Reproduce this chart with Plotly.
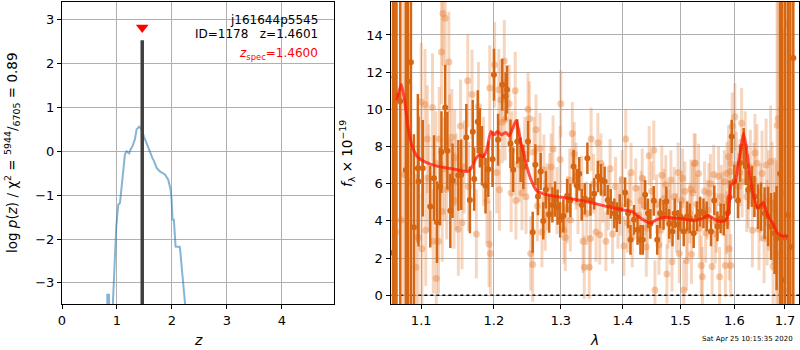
import plotly.graph_objects as go

# ---------------- redshift probability panel ----------------
z_grid = [0.800, 0.823, 0.825, 0.856, 0.858, 0.900, 0.988, 1.024, 1.055, 1.103,
          1.145, 1.176, 1.224, 1.248, 1.285, 1.327, 1.358, 1.406, 1.448, 1.490,
          1.540, 1.600, 1.650, 1.673, 1.722, 1.780, 1.873, 1.933, 1.976, 1.994,
          2.012, 2.036, 2.067, 2.145, 2.240, 2.300]
log_pz = [-5.0, -5.0, -3.27, -3.27, -5.0, -4.2, -1.71, -1.22, -1.18, -0.49,
          -0.07, 0.00, -0.05, 0.04, 0.12, 0.27, 0.50, 0.56, 0.50, 0.34,
          0.18, -0.04, -0.17, -0.22, -0.38, -0.46, -0.53, -0.65, -0.87, -1.10,
          -1.56, -1.56, -2.17, -2.18, -3.48, -4.30]
z_best = 1.4601
z_spec = 1.4600
peak_height = 2.53
marker_height = 2.82

# ---------------- spectrum panel ----------------
# binned spectrum: wavelength (micron), flux, uncertainty
lam_bin = [1.0636, 1.0653, 1.0679, 1.0727, 1.0800, 1.0826, 1.0865, 1.0904, 1.0956, 1.0965,
           1.102, 1.112, 1.117, 1.121, 1.125, 1.127, 1.132, 1.135, 1.139, 1.142,
           1.150, 1.154, 1.161, 1.166, 1.170, 1.172, 1.177, 1.180, 1.183, 1.188,
           1.192, 1.198, 1.200, 1.206, 1.212, 1.217, 1.219, 1.224, 1.228, 1.234,
           1.239, 1.243, 1.250, 1.257, 1.261, 1.265, 1.269, 1.273, 1.277, 1.282,
           1.287, 1.291, 1.295, 1.299, 1.304, 1.310, 1.315, 1.320, 1.325, 1.329,
           1.333, 1.338, 1.342, 1.347, 1.353, 1.359, 1.364, 1.370, 1.375, 1.380,
           1.386, 1.390, 1.395, 1.404, 1.409, 1.413, 1.419, 1.425, 1.430, 1.434,
           1.438, 1.443, 1.447, 1.453, 1.459, 1.464, 1.470, 1.475, 1.480, 1.486,
           1.490, 1.496, 1.500, 1.506, 1.512, 1.517, 1.524, 1.530, 1.536, 1.542,
           1.548, 1.556, 1.562, 1.568, 1.574, 1.580, 1.587, 1.591, 1.595, 1.600,
           1.607, 1.611, 1.618, 1.622, 1.627, 1.634, 1.639, 1.646, 1.652, 1.659,
           1.666, 1.672, 1.679, 1.683, 1.690, 1.694, 1.700, 1.706, 1.711, 1.717]
flux_bin = [2.28, 11.74, 10.73, 10.43, 6.74, 11.50, 12.53, 3.66, 6.83, 6.12,
            6.83, 4.77, 6.30, 3.93, 5.85, 7.70, 10.10, 7.77, 4.54, 6.16,
            6.45, 6.48, 8.49, 5.13, 8.80, 6.25, 9.33, 8.47, 7.50, 5.90,
            6.78, 7.32, 11.86, 8.36, 11.32, 10.70, 11.06, 8.15, 6.75, 8.27,
            7.29, 6.90, 8.27, 3.39, 7.02, 5.31, 6.66, 4.00, 5.67, 4.36,
            4.86, 5.17, 4.74, 4.06, 4.27, 5.35, 5.10, 6.92, 5.90, 6.53,
            4.86, 5.19, 7.37, 5.13, 5.46, 6.39, 6.21, 6.12, 5.13, 4.92,
            4.41, 4.20, 4.63, 5.53, 4.41, 2.98, 4.06, 3.52, 2.98, 2.98,
            5.40, 4.41, 3.84, 5.08, 2.98, 4.41, 4.32, 5.04, 3.84, 3.43,
            4.41, 3.79, 4.24, 3.43, 4.24, 4.14, 3.34, 4.24, 4.50, 4.41,
            4.24, 3.43, 5.10, 3.70, 4.14, 4.06, 4.41, 5.27, 8.54, 6.12,
            5.10, 7.11, 8.00, 6.93, 5.67, 5.85, 5.31, 4.77, 4.77, 4.41,
            4.24, 3.70, 3.34, 3.07, 6.53, 0.82, 3.10, 4.32, 2.60, 12.76]
err_bin = [25.0, 25.0, 25.0, 25.0, 20.0, 20.0, 16.0, 5.0, 4.0, 3.5,
           2.6, 2.2, 2.3, 2.2, 2.1, 2.2, 2.3, 2.1, 2.0, 2.0,
           1.9, 1.9, 1.8, 1.8, 1.7, 1.7, 1.7, 1.6, 1.6, 1.5,
           1.5, 1.5, 1.4, 1.4, 1.4, 1.3, 1.3, 1.3, 1.2, 1.2,
           1.2, 1.2, 1.1, 1.1, 1.1, 1.0, 1.0, 1.0, 1.0, 1.0,
           0.95, 0.95, 0.95, 0.95, 0.9, 0.9, 0.9, 0.9, 0.9, 0.9,
           0.85, 0.85, 0.85, 0.85, 0.85, 0.85, 0.85, 0.8, 0.8, 0.8,
           0.8, 0.8, 0.8, 0.8, 0.8, 0.8, 0.8, 0.8, 0.8, 0.8,
           0.8, 0.8, 0.8, 0.8, 0.8, 0.8, 0.8, 0.8, 0.8, 0.8,
           0.8, 0.8, 0.8, 0.8, 0.8, 0.8, 0.8, 0.8, 0.8, 0.8,
           0.8, 0.8, 0.8, 0.8, 0.8, 0.85, 0.85, 0.9, 0.9, 0.9,
           0.95, 1.0, 1.0, 1.0, 1.05, 1.1, 1.1, 1.2, 1.3, 1.4,
           1.6, 1.8, 2.2, 2.8, 20.0, 20.0, 25.0, 25.0, 25.0, 25.0]

# individual exposures, first orient
lam_exp = [1.067, 1.074, 1.078, 1.083, 1.093, 1.096, 1.100, 1.101, 1.105, 1.106,
           1.110, 1.115, 1.116, 1.120, 1.123, 1.124, 1.127, 1.128, 1.129, 1.132,
           1.134, 1.137, 1.138, 1.141, 1.144, 1.147, 1.150, 1.153, 1.155, 1.163,
           1.164, 1.169, 1.175, 1.178, 1.190, 1.193, 1.194, 1.195, 1.201, 1.204,
           1.207, 1.208, 1.210, 1.215, 1.216, 1.222, 1.225, 1.231, 1.232, 1.237,
           1.241, 1.247, 1.250, 1.252, 1.254, 1.257, 1.259, 1.262, 1.264, 1.268,
           1.271, 1.274, 1.279, 1.283, 1.288, 1.294, 1.299, 1.300, 1.305, 1.307,
           1.314, 1.315, 1.318, 1.321, 1.327, 1.335, 1.337, 1.345, 1.347, 1.348,
           1.356, 1.359, 1.362, 1.364, 1.372, 1.376, 1.383, 1.388, 1.396, 1.402,
           1.405, 1.411, 1.416, 1.422, 1.431, 1.437, 1.440, 1.445, 1.453, 1.455,
           1.462, 1.467, 1.474, 1.476, 1.481, 1.485, 1.489, 1.496, 1.498, 1.502,
           1.506, 1.508, 1.511, 1.517, 1.520, 1.522, 1.525, 1.527, 1.533, 1.535,
           1.538, 1.540, 1.544, 1.546, 1.552, 1.558, 1.561, 1.566, 1.570, 1.572,
           1.577, 1.581, 1.583, 1.586, 1.589, 1.590, 1.592, 1.593, 1.594, 1.596,
           1.601, 1.608, 1.614, 1.615, 1.621, 1.627, 1.631, 1.635, 1.640, 1.644,
           1.648, 1.654, 1.658, 1.662, 1.667, 1.671, 1.674, 1.676, 1.683, 1.684,
           1.686, 1.693, 1.695, 1.697, 1.705]
flux_exp = [3.40, 4.05, 6.50, 6.10, 1.50, 3.10, 10.40, 2.50, 10.25, 3.50,
            6.30, 10.10, 2.90, 0.90, 2.90, 8.40, 13.08, 4.50, 15.15, 14.90,
            5.70, 12.55, 8.20, 8.50, 5.10, 6.10, 3.55, 9.10, 3.90, 11.54,
            5.85, 10.80, 3.30, 10.15, 5.10, 2.75, 11.15, 2.25, 12.40, 6.60,
            11.05, 5.67, 10.50, 12.60, 9.45, 10.30, 5.50, 11.00, 5.10, 7.00,
            5.50, 5.30, 10.00, 9.50, 2.25, 1.65, 7.70, 8.90, 4.80, 7.90,
            3.40, 6.75, 5.30, 5.85, 7.87, 5.10, 7.30, 10.30, 3.50, 3.10,
            6.20, 4.05, 8.70, 7.60, 5.00, 2.90, 1.50, 1.50, 3.05, 8.40,
            3.40, 8.20, 3.25, 7.10, 2.90, 5.10, 3.30, 5.85, 4.80, 2.65,
            8.40, 4.95, 3.10, 5.75, 5.10, 4.80, 2.60, 7.50, 7.80, 0.28,
            2.70, 6.45, 5.95, 1.15, 4.40, 1.80, 5.30, 6.60, 2.25, 5.10,
            0.28, 5.60, 1.85, 4.40, 2.20, 5.50, 7.10, 7.10, 6.55, 3.60,
            1.60, 1.00, 5.60, 3.35, 5.50, 1.55, 6.50, 3.90, 6.40, 1.00,
            4.95, 6.10, 1.60, 6.55, 7.45, 2.50, 6.65, 1.60, 7.10, 9.10,
            9.60, 5.85, 9.25, 6.10, 8.00, 5.60, 6.90, 3.50, 7.65, 7.10,
            3.55, 6.55, 3.05, 7.00, 5.10, 7.20, 4.95, 1.55, 2.25, 9.15,
            9.50, 10.00, 5.50, 0.30, 14.60]
err_exp = [14.0, 12.0, 10.0, 8.0, 5.0, 4.0, 3.2, 3.0, 3.0, 3.0,
           2.9, 2.9, 2.8, 2.8, 2.8, 2.8, 2.8, 2.7, 2.8, 2.8,
           2.7, 2.7, 2.6, 2.6, 2.6, 2.6, 2.5, 2.5, 2.5, 2.5,
           2.4, 2.4, 2.4, 2.4, 2.3, 2.3, 2.3, 2.3, 2.3, 2.2,
           2.2, 2.2, 2.2, 2.2, 2.2, 2.1, 2.1, 2.1, 2.1, 2.0,
           2.0, 2.0, 2.0, 2.0, 2.0, 2.0, 1.9, 1.9, 1.9, 1.9,
           1.9, 1.9, 1.8, 1.8, 1.8, 1.8, 1.8, 1.8, 1.8, 1.8,
           1.7, 1.7, 1.7, 1.7, 1.7, 1.7, 1.7, 1.7, 1.7, 1.7,
           1.6, 1.6, 1.6, 1.6, 1.6, 1.6, 1.6, 1.6, 1.6, 1.6,
           1.6, 1.6, 1.6, 1.6, 1.6, 1.6, 1.6, 1.6, 1.6, 1.6,
           1.6, 1.6, 1.6, 1.6, 1.6, 1.6, 1.6, 1.6, 1.6, 1.6,
           1.6, 1.6, 1.6, 1.6, 1.6, 1.6, 1.6, 1.6, 1.6, 1.6,
           1.6, 1.6, 1.6, 1.6, 1.6, 1.6, 1.6, 1.6, 1.6, 1.6,
           1.7, 1.7, 1.7, 1.7, 1.7, 1.7, 1.7, 1.7, 1.7, 1.8,
           1.8, 1.8, 1.9, 1.9, 1.9, 2.0, 2.0, 2.0, 2.1, 2.1,
           2.2, 2.3, 2.4, 2.5, 2.7, 3.0, 3.3, 3.6, 5.0, 8.0,
           12.0, 14.0, 14.0, 14.0, 14.0]

# individual exposures, second orient
lam_exp2 = [1.108, 1.119, 1.131, 1.145, 1.158, 1.185, 1.212, 1.226, 1.245, 1.276,
            1.285, 1.310, 1.324, 1.333, 1.341, 1.352, 1.367, 1.379, 1.392, 1.399,
            1.408, 1.414, 1.427, 1.433, 1.442, 1.449, 1.458, 1.465, 1.471, 1.478,
            1.483, 1.493, 1.504, 1.513, 1.519, 1.530, 1.549, 1.555, 1.564, 1.575,
            1.585, 1.604, 1.611, 1.624, 1.638, 1.651, 1.664, 1.679]
flux_exp2 = [8.40, 7.10, 6.80, 7.40, 6.90, 7.20, 9.30, 7.80, 7.60, 4.30,
             6.90, 4.60, 6.40, 5.80, 4.40, 6.00, 5.50, 6.80, 4.10, 6.20,
             3.90, 6.60, 4.30, 6.30, 3.60, 5.60, 4.90, 3.50, 5.20, 4.10,
             6.20, 3.90, 6.30, 3.50, 5.70, 4.90, 4.60, 6.00, 3.30, 5.30,
             3.90, 7.00, 6.60, 5.30, 6.20, 5.00, 3.90, 4.60]
err_exp2 = [2.9, 2.8, 2.8, 2.6, 2.5, 2.4, 2.2, 2.1, 2.0, 1.9,
            1.8, 1.8, 1.8, 1.7, 1.7, 1.6, 1.6, 1.6, 1.6, 1.6,
            1.6, 1.6, 1.6, 1.6, 1.6, 1.6, 1.6, 1.6, 1.6, 1.6,
            1.6, 1.6, 1.6, 1.6, 1.6, 1.6, 1.6, 1.6, 1.6, 1.7,
            1.7, 1.8, 1.8, 1.9, 2.0, 2.1, 2.3, 2.8]

# best-fit model
lam_model = [1.0683, 1.0740, 1.0783, 1.0826, 1.0883, 1.0948, 1.1036, 1.1220, 1.1449, 1.1633,
             1.1679, 1.1748, 1.1793, 1.1854, 1.1909, 1.1954, 1.2000, 1.2050, 1.2110, 1.2174,
             1.2223, 1.2322, 1.2347, 1.2396, 1.2445, 1.2496, 1.2545, 1.2619, 1.2742, 1.2941,
             1.3203, 1.3473, 1.3742, 1.4010, 1.4159, 1.4306, 1.4470, 1.4571, 1.4718, 1.4955,
             1.5137, 1.5259, 1.5383, 1.5507, 1.5599, 1.5722, 1.5846, 1.5907, 1.5939, 1.6013,
             1.6066, 1.6131, 1.6176, 1.6229, 1.6294, 1.6376, 1.6459, 1.6563, 1.6661, 1.6759,
             1.6851, 1.6949, 1.7060]
flux_model = [10.50, 11.33, 10.50, 9.08, 8.00, 7.46, 7.20, 6.93, 6.78, 6.66,
              6.84, 7.38, 7.54, 7.46, 8.00, 8.81, 8.63, 8.81, 8.63, 8.76,
              8.58, 9.40, 9.08, 8.18, 7.46, 6.75, 6.21, 5.67, 5.44, 5.31,
              5.17, 4.99, 4.77, 4.59, 4.50, 4.14, 3.88, 4.06, 4.18, 4.14,
              4.06, 4.02, 4.11, 4.29, 4.14, 3.97, 4.06, 5.13, 5.94, 6.07,
              6.93, 7.90, 8.72, 8.00, 6.57, 5.31, 4.68, 4.99, 4.24, 3.84,
              3.34, 3.19, 3.19]

lam_ticks = [1.1, 1.2, 1.3, 1.4, 1.5, 1.6, 1.7]
flux_ticks = [0, 2, 4, 6, 8, 10, 12, 14]
z_ticks = [0, 1, 2, 3, 4]
pz_ticks = [-3, -2, -1, 0, 1, 2, 3]

FONT = "DejaVu Sans"
W, H = 800, 350
DARK = "rgb(214,102,18)"
LIGHT_BAR = "rgba(230,130,60,0.33)"
LIGHT_PT = "rgba(230,130,60,0.42)"
GRID = "#b0b0b0"


def px(x):
    return x / W


def py(y):
    return 1 - y / H


def fmt(v):
    s = f"{v:g}"
    return s.replace("-", "\u2212")


fig = go.Figure()

# p(z) curve
fig.add_trace(go.Scatter(x=z_grid, y=log_pz, mode="lines",
                         line=dict(color="rgba(31,119,180,0.55)", width=2),
                         xaxis="x", yaxis="y", hoverinfo="skip"))
# best redshift bar
fig.add_trace(go.Scatter(x=[z_best, z_best], y=[-4.0, peak_height], mode="lines",
                         line=dict(color="#404040", width=3.5),
                         xaxis="x", yaxis="y", hoverinfo="skip"))
# spectroscopic redshift marker
fig.add_trace(go.Scatter(x=[z_spec], y=[marker_height], mode="markers",
                         marker=dict(symbol="triangle-down", size=11, color="red",
                                     line=dict(width=0)),
                         xaxis="x", yaxis="y", hoverinfo="skip"))

# zero level
fig.add_trace(go.Scatter(x=[1.05, 1.74], y=[0, 0], mode="lines",
                         line=dict(color="black", width=1.5, dash="dot"),
                         xaxis="x2", yaxis="y2", hoverinfo="skip"))
# individual exposures
for lam_e, flux_e, err_e in ((lam_exp, flux_exp, err_exp), (lam_exp2, flux_exp2, err_exp2)):
    fig.add_trace(go.Scatter(x=lam_e, y=flux_e, mode="markers",
                             marker=dict(color=LIGHT_PT, size=7, line=dict(width=0)),
                             error_y=dict(type="data", array=err_e, thickness=3,
                                          width=0, color=LIGHT_BAR),
                             xaxis="x2", yaxis="y2", hoverinfo="skip"))
# binned spectrum
fig.add_trace(go.Scatter(x=lam_bin, y=flux_bin, mode="markers",
                         marker=dict(color=DARK, size=6, line=dict(width=0)),
                         error_y=dict(type="data", array=err_bin, thickness=2.5,
                                      width=0, color=DARK),
                         xaxis="x2", yaxis="y2", hoverinfo="skip"))
# model
fig.add_trace(go.Scatter(x=lam_model, y=flux_model, mode="lines",
                         line=dict(color="rgba(255,25,10,0.75)", width=3, shape="spline",
                                   smoothing=0.6),
                         xaxis="x2", yaxis="y2", hoverinfo="skip"))

axis_common = dict(showline=True, linecolor="black", linewidth=1, mirror=True,
                   ticks="outside", ticklen=4, tickcolor="black", tickwidth=1,
                   showgrid=True, gridcolor=GRID, gridwidth=1, zeroline=False,
                   automargin=False,
                   tickfont=dict(family=FONT, size=13, color="black"))

fig.update_layout(
    width=W, height=H,
    margin=dict(l=0, r=0, t=0, b=0, pad=0, autoexpand=False),
    paper_bgcolor="white", plot_bgcolor="white",
    showlegend=False,
    font=dict(family=FONT, color="black"),
    xaxis=dict(domain=[62 / W, 334 / W], range=[0, 4.95], anchor="y",
               tickvals=z_ticks, ticktext=[fmt(v) for v in z_ticks], **axis_common),
    yaxis=dict(domain=[py(304), py(1.5)], range=[-3.48, 3.41], anchor="x",
               tickvals=pz_ticks, ticktext=[fmt(v) for v in pz_ticks], **axis_common),
    xaxis2=dict(domain=[390.5 / W, 799 / W], type="log",
                range=[0.02543, 0.23773], anchor="y2",
                tickvals=lam_ticks, ticktext=[f"{v:.1f}" for v in lam_ticks], **axis_common),
    yaxis2=dict(domain=[py(304), py(1.5)], range=[-0.47, 15.8], anchor="x2",
                tickvals=flux_ticks, ticktext=[fmt(v) for v in flux_ticks], **axis_common),
)

ann = []
# axis titles
ann.append(dict(x=px(12), y=py(153), text="log <i>p</i>(<i>z</i>) / χ<sup>2</sup> = "
                "<sup>5944</sup>/<sub>6705</sub> = 0.89",
                textangle=-90, font=dict(size=13.5)))
ann.append(dict(x=px(198), y=py(340), text="<i>z</i>", font=dict(size=14)))
ann.append(dict(x=px(347), y=py(154), text="<i>f</i><sub>λ</sub> × 10<sup>−19</sup>",
                textangle=-90, font=dict(size=13.5)))
ann.append(dict(x=px(594), y=py(340), text="<i>λ</i>", font=dict(size=14)))
# object labels
ann.append(dict(x=px(320), y=py(20), text="j161644p5545", xanchor="right",
                font=dict(size=12)))
ann.append(dict(x=px(320), y=py(34), text="ID=1178\u00a0\u00a0\u00a0z=1.4601", xanchor="right",
                font=dict(size=12)))
ann.append(dict(x=px(320), y=py(54), text="<i>z</i><sub>spec</sub>=1.4600", xanchor="right",
                font=dict(size=12, color="red")))
# timestamp
ann.append(dict(x=px(795), y=py(339), text="Sat Apr 25 10:15:35 2020", xanchor="right",
                font=dict(size=7)))

for a in ann:
    a.update(xref="paper", yref="paper", showarrow=False)
    a.setdefault("xanchor", "center")
    a["yanchor"] = "middle"
    a["font"].setdefault("family", FONT)
    a["font"].setdefault("color", "black")

fig.update_layout(annotations=ann)

fig.write_html("out.html")
